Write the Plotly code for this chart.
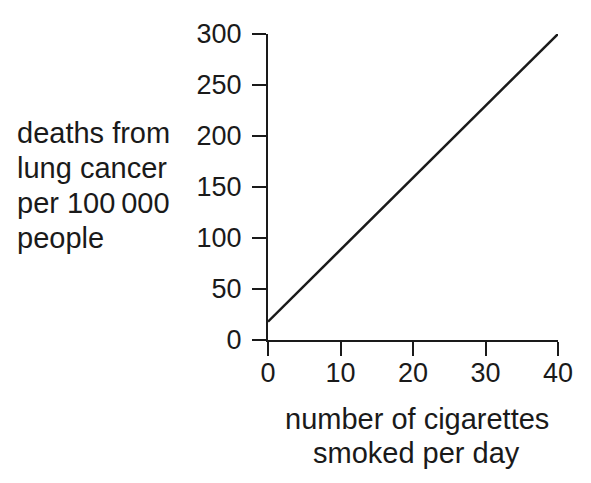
import plotly.graph_objects as go

cigarettes_per_day = [0, 40]
deaths_per_100000 = [18, 300]
x_ticks = [0, 10, 20, 30, 40]
y_ticks = [0, 50, 100, 150, 200, 250, 300]
x_title_lines = ["number of cigarettes", "smoked per day"]
y_title_lines = ["deaths from", "lung cancer", "per 100\u2009000", "people"]

FONT = "Arial, Liberation Sans, sans-serif"
INK = "#1a1a1a"

# plot area in pixels
L, R, T, B = 268, 33, 34, 143
W, H = 591, 483
PW, PH = W - L - R, H - T - B


def py(pix):
    return (H - B - pix) / PH


def px(pix):
    return (pix - L) / PW


fig = go.Figure()
fig.add_trace(go.Scatter(
    x=cigarettes_per_day, y=deaths_per_100000, mode="lines",
    line=dict(color=INK, width=2.5), cliponaxis=False, showlegend=False,
    hoverinfo="skip",
))

axis_common = dict(
    showline=True, linecolor=INK, linewidth=2,
    ticks="outside", ticklen=14, tickwidth=2, tickcolor=INK,
    showgrid=False, zeroline=False,
    tickfont=dict(family=FONT, size=27, color=INK),
)

fig.update_xaxes(range=[0, 40], tickvals=x_ticks, ticktext=[str(v) for v in x_ticks],
                 ticklabelstandoff=-6, **axis_common)
fig.update_yaxes(range=[0, 300], tickvals=y_ticks, ticktext=[str(v) for v in y_ticks],
                 ticklabelstandoff=5, **axis_common)

title_font = dict(family=FONT, size=29, color=INK)
for i, line in enumerate(x_title_lines):
    fig.add_annotation(
        text=line, xref="paper", yref="paper", x=px(416.5), y=py(419 + 34 * i),
        xanchor="center", yanchor="middle", showarrow=False, font=title_font,
    )
for i, line in enumerate(y_title_lines):
    fig.add_annotation(
        text=line, xref="paper", yref="paper", x=px(15), y=py(133 + 35 * i),
        xanchor="left", yanchor="middle", showarrow=False, font=title_font,
    )

fig.update_layout(
    width=W, height=H,
    margin=dict(l=L, r=R, t=T, b=B),
    paper_bgcolor="white", plot_bgcolor="white",
)

fig.write_html("out.html")
